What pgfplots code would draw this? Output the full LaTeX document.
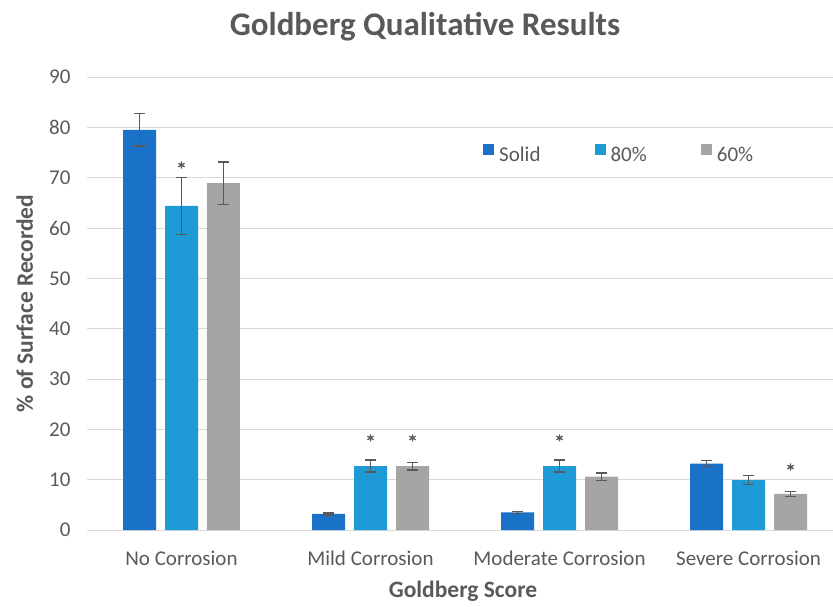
\documentclass[border=0pt]{standalone}
\usepackage{pgfplots}
\pgfplotsset{compat=1.18}
\usepackage{fontspec}
\setmainfont{Carlito}
\definecolor{txt}{HTML}{595959}
\definecolor{cSolid}{HTML}{1A71C8}
\definecolor{cEighty}{HTML}{1E9BD7}
\definecolor{cSixty}{HTML}{A5A5A5}
\definecolor{gridc}{HTML}{D9D9D9}
\pgfplotsset{mybar/.style={ybar, bar width=33pt, bar shift=0pt, draw=none,
  legend image code/.code={\fill[##1] (0pt,0pt) rectangle (11pt,11pt);}}}
\begin{document}
\begin{tikzpicture}
\path[use as bounding box] (-87pt,-76pt) rectangle (746pt,530pt);
\begin{axis}[
  at={(0pt,0pt)}, anchor=south west,
  scale only axis, width=746pt, height=453pt,
  xmin=-0.5, xmax=3.447, ymin=0, ymax=90,
  ytick={0,10,...,90},
  xtick={0,1,2,3},
  xticklabels={No Corrosion, Mild Corrosion, Moderate Corrosion, Severe Corrosion},
  ymajorgrids, major grid style={line width=1pt, color=gridc},
  axis lines=left,
  axis line style={draw=none},
  major tick length=0pt,
  tick label style={font=\fontsize{21}{25}\selectfont, text=txt},
  /pgf/number format/assume math mode=true,
  yticklabel style={xshift=-13pt},
  xticklabel style={anchor=base, yshift=-35pt},
  title={Goldberg Qualitative Results},
  title style={at={(axis description cs:0.4531,1.0928)}, anchor=base, yshift=-7pt, font=\bfseries\fontsize{33}{38}\selectfont, text=txt},
  xlabel={Goldberg Score},
  xlabel style={at={(axis description cs:0.5040,-0.1501)}, anchor=base, yshift=0pt, font=\bfseries\fontsize{23.5}{28}\selectfont, text=txt},
  ylabel={\% of Surface Recorded},
  ylabel style={at={(axis description cs:-0.0724,0.5)}, anchor=base, rotate=0, font=\bfseries\fontsize{23.5}{28}\selectfont, text=txt},
  error bars/error bar style={line width=1.3pt, color=txt},
  error bars/error mark options={rotate=90, mark size=5.5pt, line width=1.3pt, color=txt},
  legend style={at={(axis description cs:0.5308,0.831)}, anchor=west, draw=none, fill=none,
    inner sep=0pt, font=\fontsize{21}{25}\selectfont, text=txt, nodes={inner sep=0pt},
    /tikz/every even column/.append style={column sep=54pt},
    /tikz/every odd column/.append style={column sep=5pt}},
  legend columns=3,
  legend cell align=left,
]
\addplot[mybar, fill=cSolid, error bars/.cd, y dir=both, y explicit] coordinates {
  (-0.2222,79.5) +- (0,3.2)
  (0.7778,3.2) +- (0,0.2)
  (1.7778,3.5) +- (0,0.2)
  (2.7778,13.2) +- (0,0.6)
};
\addlegendentry{Solid}
\addplot[mybar, fill=cEighty, error bars/.cd, y dir=both, y explicit] coordinates {
  (0,64.4) +- (0,5.7)
  (1,12.7) +- (0,1.2)
  (2,12.7) +- (0,1.2)
  (3,9.9) +- (0,0.9)
};
\addlegendentry{80\%}
\addplot[mybar, fill=cSixty, error bars/.cd, y dir=both, y explicit] coordinates {
  (0.2222,68.9) +- (0,4.2)
  (1.2222,12.7) +- (0,0.75)
  (2.2222,10.6) +- (0,0.75)
  (3.2222,7.2) +- (0,0.5)
};
\addlegendentry{60\%}
\addplot[only marks, forget plot, mark=asterisk, mark size=3.6pt, line width=1.3pt, color=txt] coordinates {
  (0,72.5) (1,18.3) (1.2222,18.3) (2,18.3) (3.2222,12.5)
};
\end{axis}
\end{tikzpicture}
\end{document}
